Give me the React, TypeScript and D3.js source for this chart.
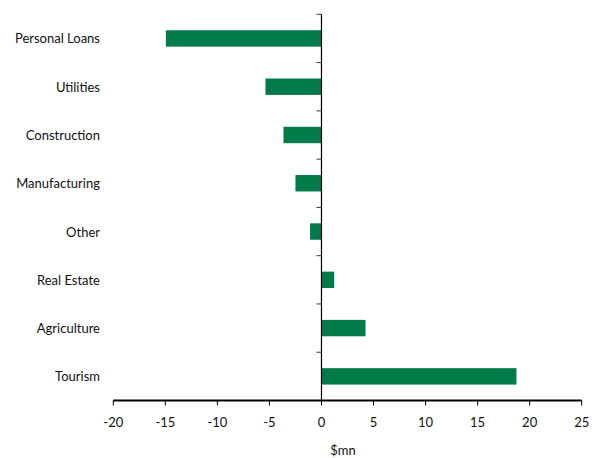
import React from "react";
import * as d3 from "d3";

const categories = [
  "Personal Loans",
  "Utilities",
  "Construction",
  "Manufacturing",
  "Other",
  "Real Estate",
  "Agriculture",
  "Tourism",
];
const values = [-14.95, -5.38, -3.65, -2.5, -1.1, 1.22, 4.23, 18.73];
const xTicks = [-20, -15, -10, -5, 0, 5, 10, 15, 20, 25];
const xLabel = "$mn";

const W = 595;
const H = 458;
const FONT = "Lato, 'Open Sans', sans-serif";
const GREEN = "#027B4B";

export default function App() {
  const left = 113.3;
  const right = 581.7;
  const top = 14.3;
  const bottom = 400.5;

  const x = d3.scaleLinear().domain([-20, 25]).range([left, right]);
  const y = d3
    .scaleBand<string>()
    .domain(categories)
    .range([top, bottom])
    .paddingInner(0.66)
    .paddingOuter(0.33);
  const band = d3.scaleBand<string>().domain(categories).range([top, bottom]);
  const x0 = x(0);

  return (
    <svg
      width={W}
      height={H}
      style={{ position: "absolute", left: 0, top: 0, background: "#fff" }}
    >
      {categories.map((c, i) => {
        const v = values[i];
        return (
          <rect
            key={c}
            x={Math.min(x(v), x0)}
            y={y(c)!}
            width={Math.abs(x(v) - x0)}
            height={y.bandwidth()}
            fill={GREEN}
          />
        );
      })}
      {/* category labels */}
      {categories.map((c) => (
        <text
          key={c}
          x={100}
          y={band(c)! + band.bandwidth() / 2}
          textAnchor="end"
          dominantBaseline="central"
          fontFamily={FONT}
          fontSize={13}
          fill="#111"
        >
          {c}
        </text>
      ))}
      {/* y axis with band boundary ticks */}
      <line x1={x0} x2={x0} y1={top} y2={bottom} stroke="#000" strokeWidth={1.2} />
      {d3.range(categories.length).map((i) => {
        const yy = top + i * band.step();
        return (
          <line key={i} x1={x0 - 5} x2={x0} y1={yy} y2={yy} stroke="#333" strokeWidth={1} />
        );
      })}
      {/* x axis */}
      <line x1={left} x2={right} y1={bottom} y2={bottom} stroke="#000" strokeWidth={2} />
      {xTicks.map((t) => (
        <g key={t}>
          <line x1={x(t)} x2={x(t)} y1={bottom} y2={bottom + 5} stroke="#000" strokeWidth={1} />
          <text
            x={x(t)}
            y={422}
            textAnchor="middle"
            dominantBaseline="central"
            fontFamily={FONT}
            fontSize={13}
            fill="#111"
          >
            {t}
          </text>
        </g>
      ))}
      <text
        x={343}
        y={450}
        textAnchor="middle"
        dominantBaseline="central"
        fontFamily={FONT}
        fontSize={13}
        fill="#111"
      >
        {xLabel}
      </text>
    </svg>
  );
}
